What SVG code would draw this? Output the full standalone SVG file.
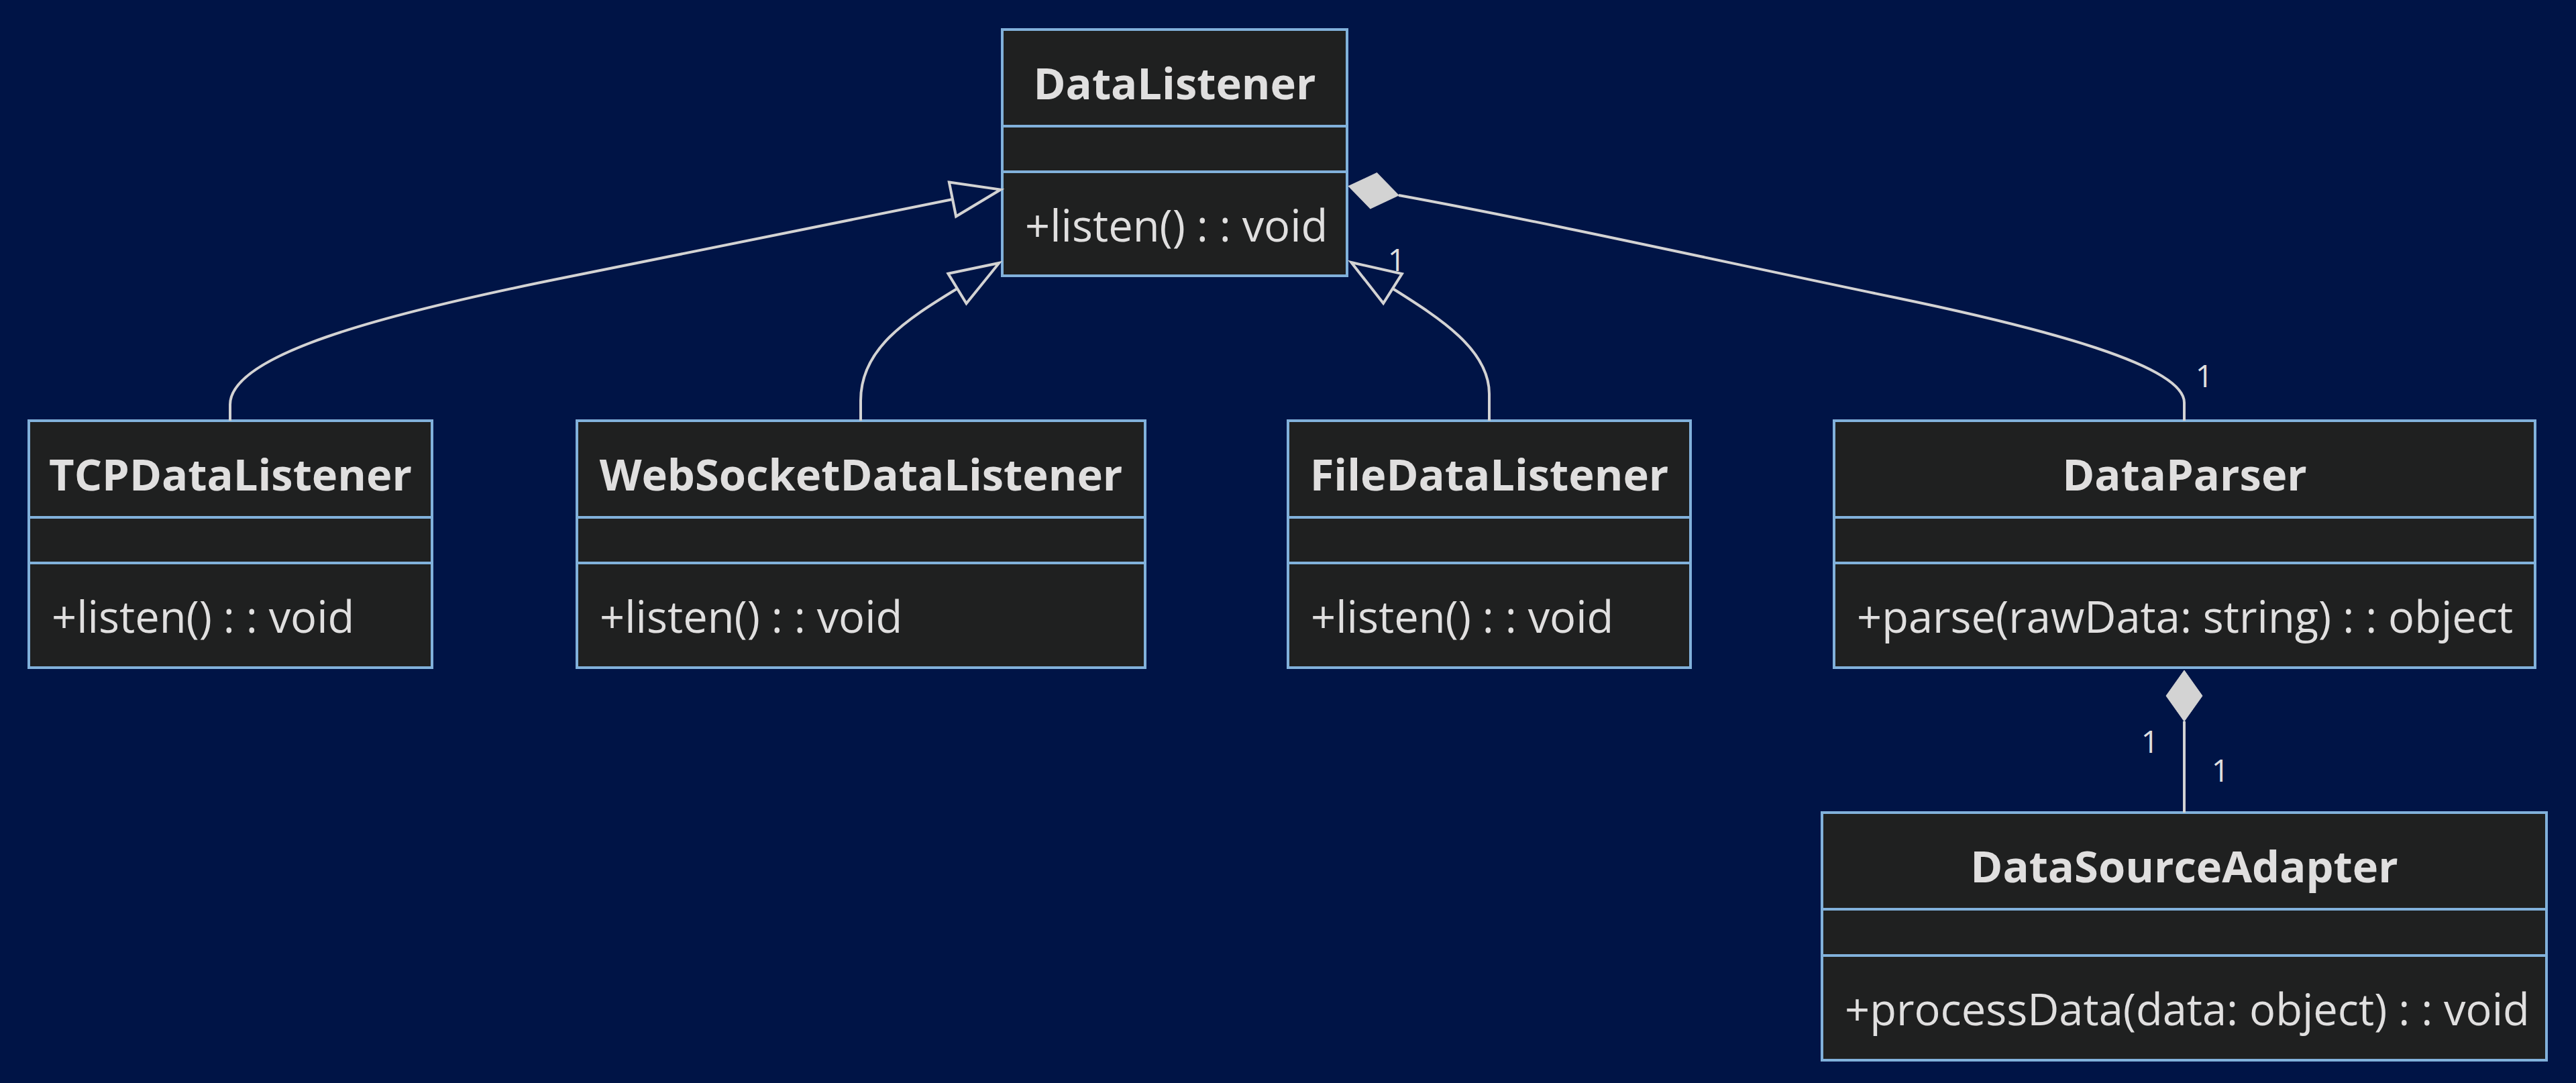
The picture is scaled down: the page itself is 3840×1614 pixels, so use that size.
<svg xmlns="http://www.w3.org/2000/svg" width="3840" height="1614" viewBox="0 0 3840 1614">
<style>
.bg{fill:#001446}
.box{fill:#1f2020;stroke:#81b1db;stroke-width:4}
.sep{stroke:#81b1db;stroke-width:4}
.title{font-family:"Open Sans","Noto Sans",sans-serif;font-weight:700;font-size:65px;fill:#e0dfdf;text-anchor:middle}
.member{font-family:"Open Sans","Noto Sans",sans-serif;font-weight:400;font-size:65px;fill:#e0dfdf;text-anchor:start}
.edge{fill:none;stroke:#d3d3d3;stroke-width:4}
.card{font-family:"Open Sans","Noto Sans",sans-serif;font-size:46px;fill:#e0dfdf;text-anchor:middle}
</style>
<defs>
<marker id="ext" markerUnits="userSpaceOnUse" markerWidth="90" markerHeight="70" viewBox="-5 -35 90 70" refX="0" refY="0" orient="auto" overflow="visible">
<path d="M0,-26 L73,0 L0,26 Z" fill="#001446" stroke="#d3d3d3" stroke-width="4" stroke-linejoin="miter"/>
</marker>
<marker id="comp" markerUnits="userSpaceOnUse" markerWidth="90" markerHeight="70" viewBox="-5 -35 90 70" refX="0" refY="0" orient="auto" overflow="visible">
<path d="M0,0 L38,-27 L76,0 L38,27 Z" fill="#d3d3d3" stroke="#d3d3d3" stroke-width="1"/>
</marker>
</defs>
<rect class="bg" x="0" y="0" width="3840" height="1614"/>

<g id="DataListener">
<rect class="box" x="1494" y="44" width="514" height="367"/>
<line class="sep" x1="1494" y1="188" x2="2008" y2="188"/>
<line class="sep" x1="1494" y1="256" x2="2008" y2="256"/>
<text class="title" x="1751" y="148">DataListener</text>
<text class="member" x="1528" y="360">+listen() : : void</text>
</g>

<g id="TCPDataListener">
<rect class="box" x="43" y="627" width="601" height="368"/>
<line class="sep" x1="43" y1="771" x2="644" y2="771"/>
<line class="sep" x1="43" y1="839" x2="644" y2="839"/>
<text class="title" x="343.5" y="731">TCPDataListener</text>
<text class="member" x="77" y="943">+listen() : : void</text>
</g>

<g id="WebSocketDataListener">
<rect class="box" x="860" y="627" width="847" height="368"/>
<line class="sep" x1="860" y1="771" x2="1707" y2="771"/>
<line class="sep" x1="860" y1="839" x2="1707" y2="839"/>
<text class="title" x="1283.5" y="731">WebSocketDataListener</text>
<text class="member" x="894" y="943">+listen() : : void</text>
</g>

<g id="FileDataListener">
<rect class="box" x="1920" y="627" width="600" height="368"/>
<line class="sep" x1="1920" y1="771" x2="2520" y2="771"/>
<line class="sep" x1="1920" y1="839" x2="2520" y2="839"/>
<text class="title" x="2220" y="731">FileDataListener</text>
<text class="member" x="1954" y="943">+listen() : : void</text>
</g>

<g id="DataParser">
<rect class="box" x="2734" y="627" width="1045" height="368"/>
<line class="sep" x1="2734" y1="771" x2="3779" y2="771"/>
<line class="sep" x1="2734" y1="839" x2="3779" y2="839"/>
<text class="title" x="3256.5" y="731">DataParser</text>
<text class="member" x="2768" y="943">+parse(rawData: string) : : object</text>
</g>

<g id="DataSourceAdapter">
<rect class="box" x="2716" y="1211" width="1080" height="369"/>
<line class="sep" x1="2716" y1="1355" x2="3796" y2="1355"/>
<line class="sep" x1="2716" y1="1424" x2="3796" y2="1424"/>
<text class="title" x="3256" y="1315">DataSourceAdapter</text>
<text class="member" x="2750" y="1528">+processData(data: object) : : void</text>
</g>

<g id="connectors">
<path class="edge" d="M343,627 L343,603 C343,530 560,470 845,413 L1420,297" marker-end="url(#ext)"/>
<path class="edge" d="M1283,627 L1283,597 C1283,520 1350,477 1427,430" marker-end="url(#ext)"/>
<path class="edge" d="M2220,627 L2220,587 C2220,520 2143.6,472.7 2076,430" marker-end="url(#ext)"/>
<path class="edge" d="M3256,627 L3256,600 C3256,545 3050,490 2823,443 C2600,397 2300,330 2085,291" marker-end="url(#comp)"/>
<path class="edge" d="M3256,1211 L3256,1075" marker-end="url(#comp)"/>
<text class="card" x="2082" y="404">1</text>
<text class="card" x="3286" y="577">1</text>
<text class="card" x="3205" y="1122">1</text>
<text class="card" x="3310" y="1165">1</text>
</g>
</svg>
